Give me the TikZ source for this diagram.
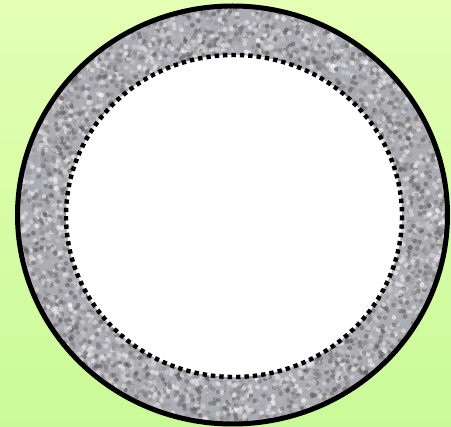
\documentclass[tikz,border=0pt]{standalone}
\definecolor{bgtop}{HTML}{E4FFB4}
\definecolor{bgbot}{HTML}{CAFA98}
\definecolor{ringgray}{HTML}{ACACB4}
\begin{document}
\begin{tikzpicture}[x=1pt,y=-1pt,line join=round]
        \useasboundingbox (0,0) rectangle (451,427);
        \shade[top color=bgtop,bottom color=bgbot] (0,0) rectangle (451,427);
        \begin{scope}
        \clip (232.5,215) ellipse [x radius=215,y radius=209];
        \fill[ringgray] (0,0) rectangle (451,427);
        \pgfmathsetseed{11}
        \foreach \i in {1,...,4200}{
            \pgfmathsetmacro\ang{rnd*360}
            \pgfmathsetmacro\rad{0.74+rnd*0.28}
            \pgfmathsetmacro\g{int(rnd*70)}
            \fill[black!\g,opacity=.55] ({232.5+215*\rad*cos(\ang)},{215+209*\rad*sin(\ang)}) circle (2.4);
        }
        \end{scope}
        \fill[white] (234,216) ellipse [x radius=168,y radius=161];
        \draw[line width=4.4,dash pattern=on 4.4 off 4] (234,216) ellipse [x radius=168,y radius=161];
        \draw[line width=5] (232.5,215) ellipse [x radius=215,y radius=209];
    \end{tikzpicture}
\end{document}
